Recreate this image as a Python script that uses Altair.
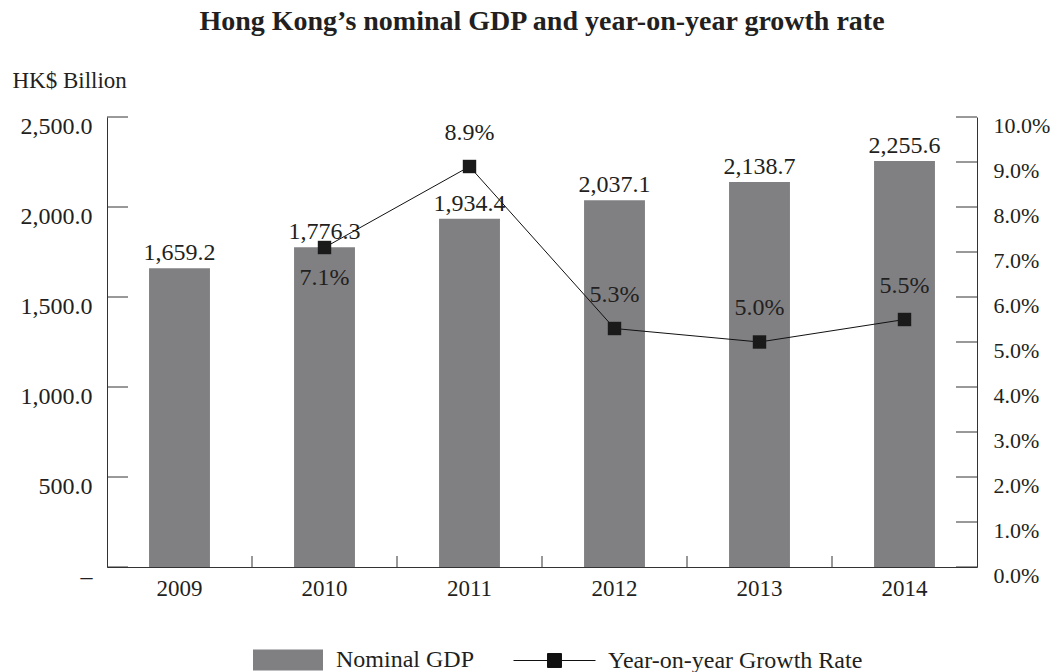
import altair as alt
import pandas as pd

years = ["2009", "2010", "2011", "2012", "2013", "2014"]
gdp = [1659.2, 1776.3, 1934.4, 2037.1, 2138.7, 2255.6]
growth = [None, 7.1, 8.9, 5.3, 5.0, 5.5]
gdp_ticks = [0, 500, 1000, 1500, 2000, 2500]
growth_ticks = [0, 1, 2, 3, 4, 5, 6, 7, 8, 9, 10]
boundary_years = ["2010", "2011", "2012", "2013", "2014"]
below_label_years = ["2010"]

FONT = "Liberation Serif"
GREY = "#808083"
AXC = "#333333"
TXT = "#231f20"

df = pd.DataFrame({"year": years, "gdp": gdp, "growth": growth,
                   "s1": "Nominal GDP", "s2": "Year-on-year Growth Rate"})
df_g = df.dropna(subset=["growth"]).copy()
df_g["below"] = df_g["year"].isin(below_label_years)
lt = pd.DataFrame({"gdp": gdp_ticks})
rt = pd.DataFrame({"growth": growth_ticks})
bt = pd.DataFrame({"year": boundary_years})

xscale = alt.Scale(domain=years, paddingInner=0.58, paddingOuter=0.29)
xenc = alt.X("year:N", scale=xscale, axis=alt.Axis(
    title=None, labelAngle=0, domainColor=AXC, ticks=False,
    labelFont=FONT, labelFontSize=23, labelColor=TXT, labelPadding=10))

yl_scale = alt.Scale(domain=[0, 2500], nice=False, zero=True)
yl_axis = alt.Axis(
    title="HK$ Billion", titleAngle=0, titleAlign="left", titleBaseline="middle",
    titleX=-95, titleY=-37, titleFont=FONT, titleFontSize=23, titleFontWeight="normal",
    titleColor=TXT,
    values=gdp_ticks, ticks=False, grid=False, domainColor=AXC,
    labelFont=FONT, labelFontSize=24, labelColor=TXT, labelPadding=15,
    labelOffset=9, labelBaseline="middle",
    labelExpr="datum.value == 0 ? '\u2013' : format(datum.value, ',.1f')")
yr_scale = alt.Scale(domain=[0, 10], nice=False, zero=True)
yr_axis = alt.Axis(
    title=None, orient="right", values=growth_ticks, ticks=False, grid=False,
    domainColor=AXC, labelFont=FONT, labelFontSize=22, labelColor=TXT,
    labelPadding=16, labelOffset=8, labelBaseline="middle",
    labelExpr="format(datum.value, '.1f') + '%'")

bars = alt.Chart(df).mark_bar(color=GREY).encode(
    x=xenc,
    y=alt.Y("gdp:Q", scale=yl_scale, axis=yl_axis),
    fill=alt.Fill("s1:N", scale=alt.Scale(domain=["Nominal GDP"], range=[GREY]),
                  legend=alt.Legend(
                      title=None, orient="none", legendX=146, legendY=508,
                      symbolType="M-1,-0.3H1V0.3H-1Z", symbolSize=4900,
                      symbolStrokeWidth=0, labelFont=FONT, labelFontSize=24,
                      labelColor=TXT, labelOffset=13, labelLimit=400, padding=0)),
)
bar_text = alt.Chart(df).mark_text(
    baseline="bottom", dy=-3, font=FONT, fontSize=24, color=TXT
).encode(x=alt.X("year:N", scale=xscale), y=alt.Y("gdp:Q", scale=yl_scale, axis=yl_axis),
         text=alt.Text("gdp:Q", format=",.1f"))
left_ticks = alt.Chart(lt).mark_rule(color=AXC).encode(
    y=alt.Y("gdp:Q", scale=yl_scale, axis=yl_axis),
    x=alt.value(0), x2=alt.value(21))
x_ticks = alt.Chart(bt).mark_rule(color=AXC, xOffset=-72.5).encode(
    x=alt.X("year:N", scale=xscale), y=alt.value(439), y2=alt.value(450))

left = alt.layer(bars, bar_text, left_ticks, x_ticks)

line = alt.Chart(df_g).mark_line(color="#111", strokeWidth=1).encode(
    x=alt.X("year:N", scale=xscale),
    y=alt.Y("growth:Q", scale=yr_scale, axis=yr_axis),
    stroke=alt.Stroke("s2:N", scale=alt.Scale(domain=["Year-on-year Growth Rate"], range=["#111"]),
                      legend=alt.Legend(
                          title=None, orient="none", legendX=406, legendY=502,
                          symbolType="M-1,0H1M-0.17,-0.17H0.17V0.17H-0.17Z",
                          symbolSize=6724, symbolStrokeWidth=1,
                          symbolFillColor="#111", labelFont=FONT, labelFontSize=24,
                          labelColor=TXT, labelOffset=12, labelLimit=400, padding=0)),
)
pts = alt.Chart(df_g).mark_point(shape="square", filled=True, size=180, color="#1a1a1a", opacity=1).encode(
    x=alt.X("year:N", scale=xscale),
    y=alt.Y("growth:Q", scale=yr_scale, axis=yr_axis))
lab_above = alt.Chart(df_g).transform_filter("!datum.below").transform_calculate(
    label="format(datum.growth, '.1f') + '%'"
).mark_text(baseline="middle", dy=-34, font=FONT, fontSize=24, color=TXT).encode(
    x=alt.X("year:N", scale=xscale),
    y=alt.Y("growth:Q", scale=yr_scale, axis=yr_axis),
    text=alt.Text("label:N"))
lab_below = alt.Chart(df_g).transform_filter("datum.below").transform_calculate(
    label="format(datum.growth, '.1f') + '%'"
).mark_text(baseline="middle", dy=30, font=FONT, fontSize=24, color=TXT).encode(
    x=alt.X("year:N", scale=xscale),
    y=alt.Y("growth:Q", scale=yr_scale, axis=yr_axis),
    text=alt.Text("label:N"))
right_ticks = alt.Chart(rt).mark_rule(color=AXC).encode(
    y=alt.Y("growth:Q", scale=yr_scale, axis=yr_axis),
    x=alt.value(849), x2=alt.value(870))

right = alt.layer(line, pts, lab_above, lab_below, right_ticks)

chart = alt.layer(left, right).resolve_scale(y="independent", fill="independent", stroke="independent").properties(
    width=870, height=450,
    padding={"left": 107, "top": 117, "right": 77, "bottom": 105},
    autosize=alt.AutoSizeParams(type="none"),
    title=alt.TitleParams(
        "Hong Kong\u2019s nominal GDP and year-on-year growth rate",
        font=FONT, fontSize=28, fontWeight="bold", color=TXT,
        anchor="middle", offset=33),
).configure_view(stroke=None).configure_axis(domainWidth=1)

chart.save("out.html", embed_options={"renderer": "svg", "actions": False})
